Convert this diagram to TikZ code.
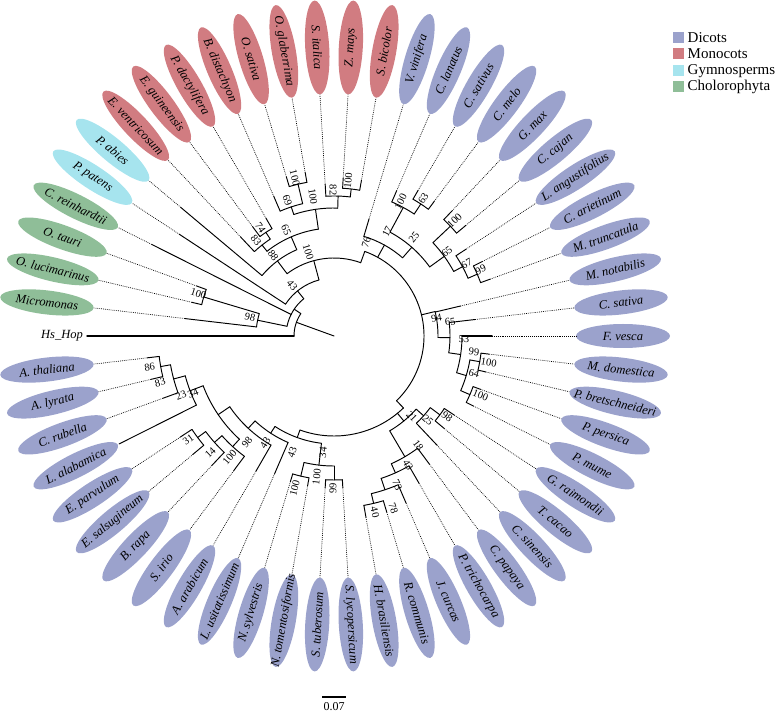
\documentclass[tikz,border=0pt]{standalone}
\usepackage{fontspec}
\setmainfont{Liberation Serif}
\usetikzlibrary{shapes.geometric}
\definecolor{dicot}{RGB}{155,162,204}
\definecolor{mono}{RGB}{209,124,129}
\definecolor{gymno}{RGB}{166,228,238}
\definecolor{chloro}{RGB}{143,190,152}
\newcommand\Ar[3]{\draw[br] (#2:#1pt) arc[start angle=#2,end angle=#3,radius=#1pt];}
\newcommand\Rl[3]{\draw[br] (#1:#2pt) -- (#1:#3pt);}
\newcommand\Lt[4]{\draw[br] (#2:#3pt) -- (#2:#4pt) coordinate (t#1);\draw[dotl] (t#1) -- (e#1);}
\newcommand\Leaf[4]{\pgfmathsetmacro\lrot{ifthenelse(abs(#2)>90,#2+180,#2)}%
  \node[lf,fill=#3,rotate=\lrot] (e#1) at (#2:289pt) {\makebox[0pt]{#4}};}
\newcommand\Bs[3]{\pgfmathsetmacro\brot{ifthenelse(abs(#1)>90,#1+180,#1)}%
  \node[bs,rotate=\brot] at (#1:#2pt) {#3};}
\begin{document}
\begin{tikzpicture}[x=1pt,y=1pt,
  br/.style={line width=0.95pt,line cap=round},
  dotl/.style={line width=0.7pt,dash pattern=on 0.8pt off 1.1pt,black},
  lf/.style={ellipse,draw=none,minimum width=94pt,minimum height=24pt,inner sep=0pt,
    font=\fontsize{12.5}{12.5}\selectfont\itshape},
  bs/.style={font=\fontsize{10.5}{10.5}\selectfont,inner sep=0pt},
  legbox/.style={minimum size=11pt,inner sep=0pt},
  legtxt/.style={anchor=west,font=\fontsize{15}{15}\selectfont,inner sep=0pt}]
\useasboundingbox (0,0) rectangle (778,712);
\begin{scope}[shift={(334,376)}]
% leaves
\Leaf{1}{173.33}{chloro}{Micromonas}
\Leaf{2}{166.67}{chloro}{O. lucimarinus}
\Leaf{3}{160}{chloro}{O. tauri}
\Leaf{4}{153.33}{chloro}{C. reinhardtii}
\Leaf{5}{146.67}{gymno}{P. patens}
\Leaf{6}{140}{gymno}{P. abies}
\Leaf{7}{133.33}{mono}{E. ventricosum}
\Leaf{8}{126.67}{mono}{E. guineensis}
\Leaf{9}{120}{mono}{P. dactylifera}
\Leaf{10}{113.33}{mono}{B. distachyon}
\Leaf{11}{106.67}{mono}{O. sativa}
\Leaf{12}{100}{mono}{O. glaberrima}
\Leaf{13}{93.33}{mono}{S. italica}
\Leaf{14}{86.67}{mono}{Z. mays}
\Leaf{15}{80}{mono}{S. bicolor}
\Leaf{16}{73.33}{dicot}{V. vinifera}
\Leaf{17}{66.67}{dicot}{C. lanatus}
\Leaf{18}{60}{dicot}{C. sativus}
\Leaf{19}{53.33}{dicot}{C. melo}
\Leaf{20}{46.67}{dicot}{G. max}
\Leaf{21}{40}{dicot}{C. cajan}
\Leaf{22}{33.33}{dicot}{L. angustifolius}
\Leaf{23}{26.67}{dicot}{C. arietinum}
\Leaf{24}{20}{dicot}{M. truncatula}
\Leaf{25}{13.33}{dicot}{M. notabilis}
\Leaf{26}{6.67}{dicot}{C. sativa}
\Leaf{27}{0}{dicot}{F. vesca}
\Leaf{28}{-6.67}{dicot}{M. domestica}
\Leaf{29}{-13.33}{dicot}{P. bretschneideri}
\Leaf{30}{-20}{dicot}{P. persica}
\Leaf{31}{-26.67}{dicot}{P. mume}
\Leaf{32}{-33.33}{dicot}{G. raimondii}
\Leaf{33}{-40}{dicot}{T. cacao}
\Leaf{34}{-46.67}{dicot}{C. sinensis}
\Leaf{35}{-53.33}{dicot}{C. papaya}
\Leaf{36}{-60}{dicot}{P. trichocarpa}
\Leaf{37}{-66.67}{dicot}{J. curcas}
\Leaf{38}{-73.33}{dicot}{R. communis}
\Leaf{39}{-80}{dicot}{H. brasiliensis}
\Leaf{40}{-86.67}{dicot}{S. lycopersicum}
\Leaf{41}{-93.33}{dicot}{S. tuberosum}
\Leaf{42}{-100}{dicot}{N. tomentosiformis}
\Leaf{43}{-106.67}{dicot}{N. sylvestris}
\Leaf{44}{-113.33}{dicot}{L. usitatissimum}
\Leaf{45}{-120}{dicot}{A. arabicum}
\Leaf{46}{-126.67}{dicot}{S. irio}
\Leaf{47}{-133.33}{dicot}{B. rapa}
\Leaf{48}{-140}{dicot}{E. salsugineum}
\Leaf{49}{-146.67}{dicot}{E. parvulum}
\Leaf{50}{-153.33}{dicot}{L. alabamica}
\Leaf{51}{-160}{dicot}{C. rubella}
\Leaf{52}{-166.67}{dicot}{A. lyrata}
\Leaf{53}{-173.33}{dicot}{A. thaliana}
\node[font=\fontsize{12.5}{12.5}\selectfont\itshape,inner sep=4pt] (hs) at (180:272pt) {Hs\_Hop};
% root
\Rl{160}{0}{40}
\Ar{40}{180}{146}
\draw[br,line width=1.5pt] (180:40pt) -- (hs);
\Rl{146}{40}{48}
\Ar{48}{168.33}{129}
\Rl{168.33}{48}{78}
\Ar{78}{173.33}{163.33}
\Lt{1}{173.33}{78}{150}
\Rl{163.33}{78}{136}
\Ar{136}{166.67}{160}
\Lt{2}{166.67}{136}{146}
\Lt{3}{160}{136}{146}
\Lt{4}{153.33}{48}{204}
\Rl{129}{48}{58}
\Ar{58}{146.67}{105}
\Lt{5}{146.67}{58}{185}
\Rl{105}{58}{78}
\Ar{78}{127}{70}
\Rl{127}{78}{94}
\Ar{94}{140}{113.33}
\Lt{6}{140}{94}{200}
\Rl{113.33}{94}{108}
\Ar{108}{128.33}{98.33}
\Rl{128.33}{108}{116}
\Ar{116}{133.33}{123.33}
\Lt{7}{133.33}{116}{136}
\Rl{123.33}{116}{124}
\Ar{124}{126.67}{120}
\Lt{8}{126.67}{124}{136}
\Lt{9}{120}{124}{136}
\Rl{98.33}{108}{128}
\Ar{128}{108.33}{88.33}
\Rl{108.33}{128}{136}
\Ar{136}{113.33}{103.33}
\Lt{10}{113.33}{136}{152}
\Rl{103.33}{136}{156}
\Ar{156}{106.67}{100}
\Lt{11}{106.67}{156}{166}
\Lt{12}{100}{156}{166}
\Rl{88.33}{128}{140}
\Ar{140}{93.33}{83.33}
\Lt{13}{93.33}{140}{152}
\Rl{83.33}{140}{148}
\Ar{148}{86.67}{80}
\Lt{14}{86.67}{148}{158}
\Lt{15}{80}{148}{158}
% dicots
\Rl{70}{78}{90}
\Ar{90}{70}{-46}
\Rl{61}{90}{104}
\Ar{104}{73.33}{48.75}
\Lt{16}{73.33}{104}{122}
\Rl{48.75}{104}{118}
\Ar{118}{61.67}{35.83}
\Rl{61.67}{118}{146}
\Ar{146}{66.67}{56.67}
\Lt{17}{66.67}{146}{158}
\Rl{56.67}{146}{158}
\Ar{158}{60}{53.33}
\Lt{18}{60}{158}{168}
\Lt{19}{53.33}{158}{168}
\Rl{35.83}{118}{136}
\Ar{136}{43.33}{28.33}
\Rl{43.33}{136}{160}
\Ar{160}{46.67}{40}
\Lt{20}{46.67}{160}{172}
\Lt{21}{40}{160}{172}
\Rl{28.33}{136}{146}
\Ar{146}{33.33}{23.33}
\Lt{22}{33.33}{146}{158}
\Rl{23.33}{146}{156}
\Ar{156}{26.67}{20}
\Lt{23}{26.67}{156}{166}
\Lt{24}{20}{156}{166}
% Rosales
\Rl{13.6}{90}{104}
\Ar{104}{13.6}{-0.83}
\Lt{25}{13.33}{104}{130}
\Rl{-0.83}{104}{116}
\Ar{116}{6.67}{-8.33}
\Lt{26}{6.67}{116}{142}
\Rl{-8.33}{116}{128}
\Ar{128}{0}{-16.67}
\draw[br,line width=1.5pt] (0:128pt) -- (0:158pt) coordinate (t27);
\draw[dotl] (t27) -- (e27);
\Rl{-16.67}{128}{138}
\Ar{138}{-10}{-23.33}
\Rl{-10}{138}{148}
\Ar{148}{-6.67}{-13.33}
\Lt{28}{-6.67}{148}{156}
\Lt{29}{-13.33}{148}{156}
\Rl{-23.33}{138}{148}
\Ar{148}{-20}{-26.67}
\Lt{30}{-20}{148}{156}
\Lt{31}{-26.67}{148}{156}
% malvids / malpighiales
\Rl{-46}{90}{100}
\Ar{100}{-46}{-109.9}
\Rl{-50.6}{100}{110}
\Ar{110}{-41.67}{-59.58}
\Rl{-41.67}{110}{120}
\Ar{120}{-36.67}{-46.67}
\Rl{-36.67}{120}{132}
\Ar{132}{-33.33}{-40}
\Lt{32}{-33.33}{132}{144}
\Lt{33}{-40}{132}{144}
\Lt{34}{-46.67}{120}{150}
\Rl{-59.58}{110}{140}
\Ar{140}{-53.33}{-65.83}
\Lt{35}{-53.33}{140}{160}
\Rl{-65.83}{140}{150}
\Ar{150}{-60}{-71.67}
\Lt{36}{-60}{150}{170}
\Rl{-71.67}{150}{162}
\Ar{162}{-66.67}{-76.67}
\Lt{37}{-66.67}{162}{182}
\Rl{-76.67}{162}{172}
\Ar{172}{-73.33}{-80}
\Lt{38}{-73.33}{172}{184}
\Lt{39}{-80}{172}{184}
% asterids / brassicales
\Rl{-109.9}{100}{108}
\Ar{108}{-96.67}{-123.1}
\Rl{-96.67}{108}{130}
\Ar{130}{-90}{-103.33}
\Rl{-90}{130}{144}
\Ar{144}{-86.67}{-93.33}
\Lt{40}{-86.67}{144}{152}
\Lt{41}{-93.33}{144}{152}
\Rl{-103.33}{130}{144}
\Ar{144}{-100}{-106.67}
\Lt{42}{-100}{144}{152}
\Lt{43}{-106.67}{144}{152}
\Rl{-123.1}{108}{116}
\Ar{116}{-113.33}{-132.9}
\Lt{44}{-113.33}{116}{150}
\Rl{-132.9}{116}{126}
\Ar{126}{-120}{-145.83}
\Lt{45}{-120}{126}{156}
\Rl{-145.83}{126}{140}
\Ar{140}{-132.5}{-159.17}
\Rl{-132.5}{140}{150}
\Ar{150}{-126.67}{-138.33}
\Lt{46}{-126.67}{150}{168}
\Rl{-138.33}{150}{160}
\Ar{160}{-133.33}{-143.33}
\Lt{47}{-133.33}{160}{178}
\Rl{-143.33}{160}{170}
\Ar{170}{-140}{-146.67}
\Lt{48}{-140}{170}{184}
\Lt{49}{-146.67}{170}{184}
\Rl{-159.17}{140}{154}
\Ar{154}{-153.33}{-165}
\Lt{50}{-153.33}{154}{240}
\Rl{-165}{154}{166}
\Ar{166}{-160}{-170}
\Lt{51}{-160}{166}{182}
\Rl{-170}{166}{176}
\Ar{176}{-166.67}{-173.33}
\Lt{52}{-166.67}{176}{188}
\Lt{53}{-173.33}{176}{188}
% bootstrap values
\Bs{162.6}{142}{100}
\Bs{167.5}{86}{98}
\Bs{129.3}{66}{43}
\Bs{107}{88}{100}
\Bs{127}{101}{88}
\Bs{114.3}{116}{65}
\Bs{129.3}{123}{83}
\Bs{124.2}{131}{74}
\Bs{98.6}{141}{100}
\Bs{109}{143}{69}
\Bs{103.9}{163}{100}
\Bs{90.4}{146}{82}
\Bs{84.8}{156}{100}
\Bs{71}{99}{76}
\Bs{63}{117}{17}
\Bs{51}{127}{25}
\Bs{63.6}{150}{100}
\Bs{57}{164}{63}
\Bs{43.8}{167}{100}
\Bs{36.8}{141}{65}
\Bs{28.5}{151}{67}
\Bs{24.3}{161}{99}
\Bs{10}{104}{94}
\Bs{7}{117}{65}
\Bs{-1.5}{130}{53}
\Bs{-6.5}{141}{99}
\Bs{-9.6}{157}{100}
\Bs{-15}{145}{64}
\Bs{-22}{158}{100}
\Bs{-35.6}{139}{98}
\Bs{-41.8}{126}{25}
\Bs{-46}{112}{21}
\Bs{-52.4}{138}{18}
\Bs{-60.2}{149}{43}
\Bs{-67}{162}{73}
\Bs{-71}{182}{78}
\Bs{-76.9}{181}{40}
\Bs{-95.4}{117}{34}
\Bs{-90.4}{152}{99}
\Bs{-97}{142}{100}
\Bs{-104.5}{157}{100}
\Bs{-109.7}{124}{43}
\Bs{-122.8}{127}{43}
\Bs{-129.4}{137}{98}
\Bs{-130.7}{160}{100}
\Bs{-136.7}{170}{14}
\Bs{-144.5}{179}{31}
\Bs{-158}{152}{34}
\Bs{-158.8}{164}{23}
\Bs{-165}{180}{83}
\Bs{-170.4}{187}{86}
\end{scope}
% legend
\node[legbox,fill=dicot] (l1) at (678.5,674) {};
\node[legtxt] at (687.5,674) {Dicots};
\node[legbox,fill=mono] (l2) at (678.5,658) {};
\node[legtxt] at (687.5,658) {Monocots};
\node[legbox,fill=gymno] (l3) at (678.5,641) {};
\node[legtxt] at (687.5,641) {Gymnosperms};
\node[legbox,fill=chloro] (l4) at (678.5,625) {};
\node[legtxt] at (687.5,625) {Cholorophyta};
% scale bar
\coordinate (sb1) at (322,15);
\coordinate (sb2) at (346,15);
\draw[line width=1.2pt] (sb1) -- (sb2);
\node[font=\fontsize{12}{12}\selectfont,inner sep=0pt] (sbt) at (334,5.5) {0.07};
\end{tikzpicture}
\end{document}
